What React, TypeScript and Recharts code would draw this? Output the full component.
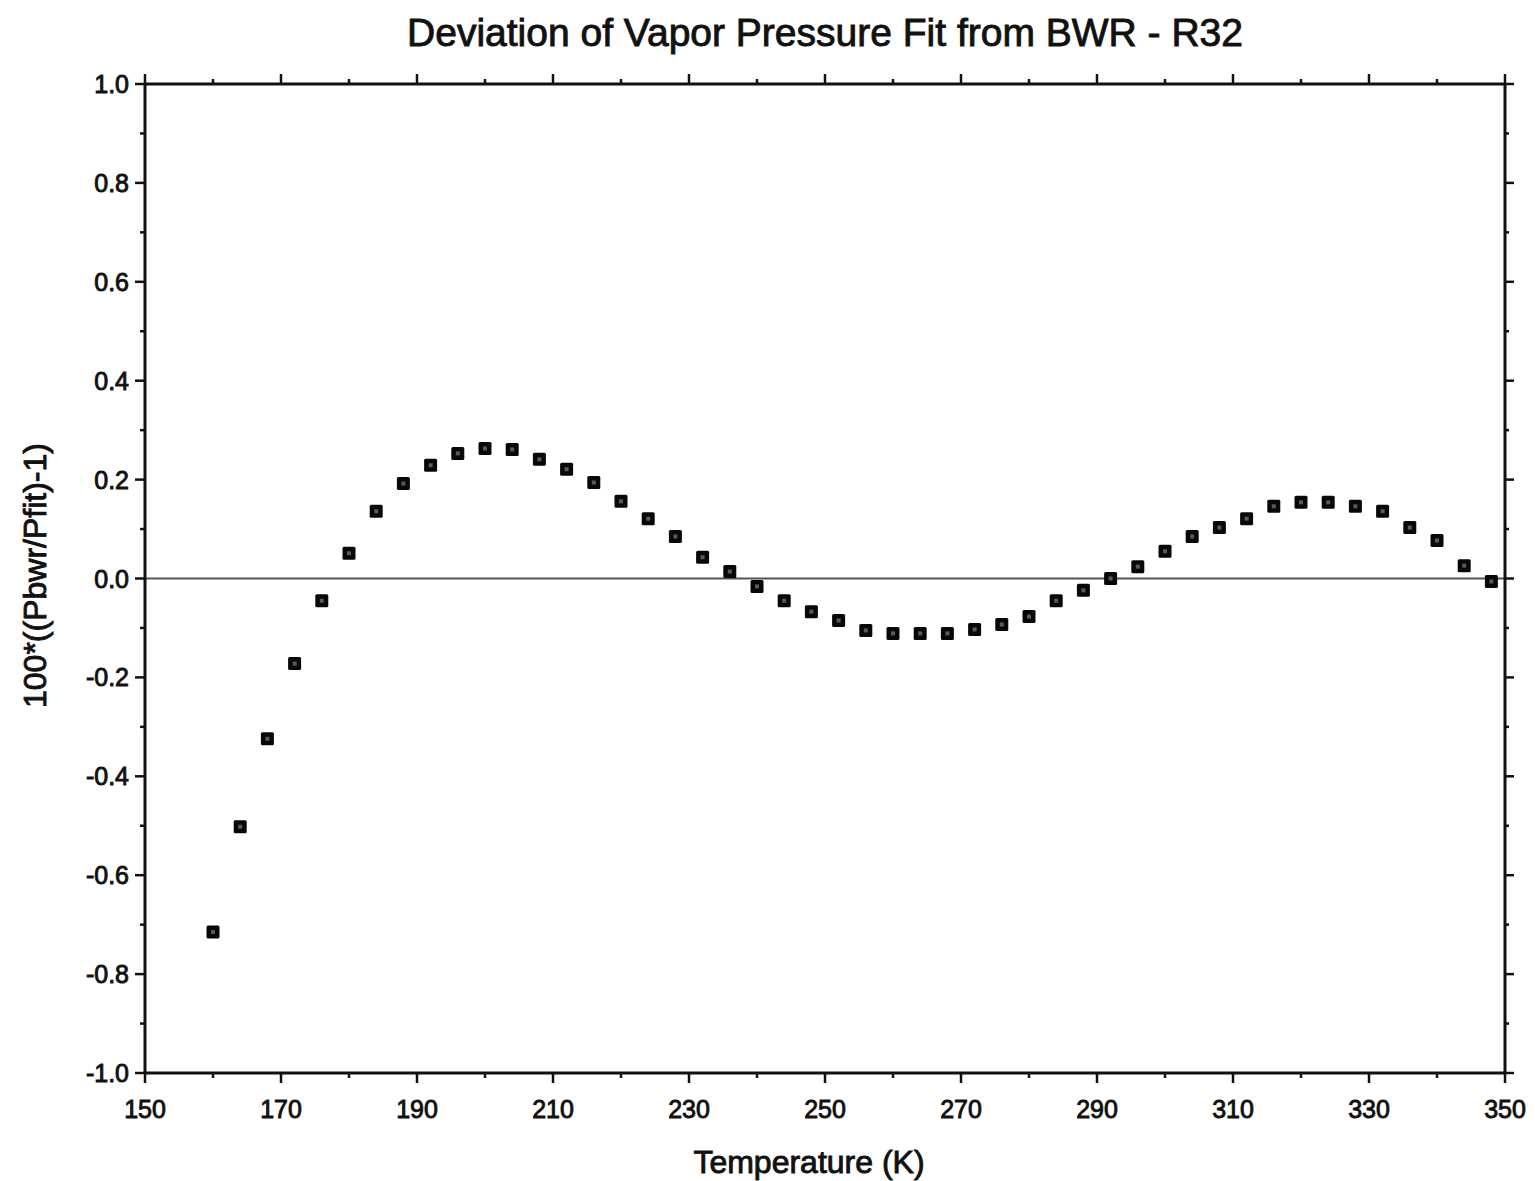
import React from 'react';
import { ScatterChart, Scatter, XAxis, YAxis, ReferenceLine, Label } from 'recharts';

// Temperature (K)
const temperatures = [
  160, 164, 168, 172, 176, 180, 184, 188, 192, 196, 200, 204, 208, 212, 216, 220,
  224, 228, 232, 236, 240, 244, 248, 252, 256, 260, 264, 268, 272, 276, 280, 284,
  288, 292, 296, 300, 304, 308, 312, 316, 320, 324, 328, 332, 336, 340, 344, 348,
];

// 100*((Pbwr/Pfit)-1)
const deviations = [
  -0.715, -0.502, -0.324, -0.172, -0.045, 0.051, 0.136, 0.192, 0.229, 0.253, 0.263, 0.261,
  0.241, 0.221, 0.194, 0.156, 0.121, 0.085, 0.043, 0.014, -0.016, -0.045, -0.067, -0.085,
  -0.105, -0.111, -0.111, -0.111, -0.103, -0.093, -0.077, -0.045, -0.024, 0.0, 0.024, 0.055,
  0.085, 0.103, 0.121, 0.146, 0.154, 0.154, 0.146, 0.136, 0.103, 0.077, 0.026, -0.006,
];

const xTicks = [150, 160, 170, 180, 190, 200, 210, 220, 230, 240, 250, 260, 270, 280, 290, 300, 310, 320, 330, 340, 350];
const xMajorTicks = [150, 170, 190, 210, 230, 250, 270, 290, 310, 330, 350];
const yTicks = [-1.0, -0.9, -0.8, -0.7, -0.6, -0.5, -0.4, -0.3, -0.2, -0.1, 0.0, 0.1, 0.2, 0.3, 0.4, 0.5, 0.6, 0.7, 0.8, 0.9, 1.0];
const yMajorTicks = [-1.0, -0.8, -0.6, -0.4, -0.2, 0.0, 0.2, 0.4, 0.6, 0.8, 1.0];

const chartTitle = 'Deviation of Vapor Pressure Fit from BWR - R32';
const xTitle = 'Temperature (K)';
const yTitle = '100*((Pbwr/Pfit)-1)';

const points = temperatures.map((t, i) => ({ t, d: deviations[i] }));

const FONT = '"Liberation Sans", Arial, Helvetica, sans-serif';
const INK = '#111';

const isMajorX = (v: number) => xMajorTicks.some((m) => Math.abs(m - v) < 1e-9);
const isMajorY = (v: number) => yMajorTicks.some((m) => Math.abs(m - v) < 1e-9);

const BottomTick = (props: any) => {
  const { x, y, payload } = props;
  const major = isMajorX(payload.value);
  return (
    <g>
      <line x1={x} x2={x} y1={y} y2={y + (major ? 10 : 5)} stroke={INK} strokeWidth={2.5} />
      {major && (
        <text x={x} y={y + 36} textAnchor="middle" dominantBaseline="central" fontFamily={FONT} fontSize={25} fill={INK} stroke={INK} strokeWidth={0.9}>
          {payload.value}
        </text>
      )}
    </g>
  );
};

const TopTick = (props: any) => {
  const { x, y, payload } = props;
  const major = isMajorX(payload.value);
  return <line x1={x} x2={x} y1={y} y2={y - (major ? 10 : 5)} stroke={INK} strokeWidth={2.5} />;
};

const LeftTick = (props: any) => {
  const { x, y, payload } = props;
  const major = isMajorY(payload.value);
  return (
    <g>
      <line x1={x} x2={x - (major ? 10 : 5)} y1={y} y2={y} stroke={INK} strokeWidth={2.5} />
      {major && (
        <text x={x - 16} y={y} textAnchor="end" dominantBaseline="central" fontFamily={FONT} fontSize={25} fill={INK} stroke={INK} strokeWidth={0.9}>
          {Number(payload.value).toFixed(1)}
        </text>
      )}
    </g>
  );
};

const RightTick = (props: any) => {
  const { x, y, payload } = props;
  const major = isMajorY(payload.value);
  return <line x1={x} x2={x + (major ? 9 : 4)} y1={y} y2={y} stroke={INK} strokeWidth={2.5} />;
};

const SquareMarker = (props: any) => {
  const { cx, cy } = props;
  if (cx == null || cy == null) return <g />;
  return (
    <g>
      <rect x={cx - 6.5} y={cy - 6.5} width={13} height={13} rx={1.5} fill="#080808" />
      <rect x={cx - 2} y={cy - 2} width={4} height={4} fill="#5a5a5a" />
    </g>
  );
};

const EmptyShape = () => <g />;

const TitleLabel = (props: any) => {
  const vb = props.viewBox || { x: 0, y: 0, width: 0, height: 0 };
  return (
    <text x={vb.x + vb.width / 2} y={vb.y - 32} textAnchor="middle" dominantBaseline="central" fontFamily={FONT} fontSize={39} fill={INK} stroke={INK} strokeWidth={0.9}>
      {chartTitle}
    </text>
  );
};

const XTitleLabel = (props: any) => {
  const vb = props.viewBox || { x: 0, y: 0, width: 0, height: 0 };
  return (
    <text x={vb.x + vb.width / 2 - 16} y={vb.y + 89} textAnchor="middle" dominantBaseline="central" fontFamily={FONT} fontSize={32} fill={INK} stroke={INK} strokeWidth={0.9}>
      {xTitle}
    </text>
  );
};

const YTitleLabel = (props: any) => {
  const vb = props.viewBox || { x: 0, y: 0, width: 0, height: 0 };
  const cx = vb.x - 50;
  const cy = vb.y + vb.height / 2 - 3;
  return (
    <text x={cx} y={cy} transform={`rotate(-90, ${cx}, ${cy})`} textAnchor="middle" dominantBaseline="central" fontFamily={FONT} fontSize={32} fill={INK} stroke={INK} strokeWidth={0.9}>
      {yTitle}
    </text>
  );
};

export default function App() {
  return (
    <div style={{ position: 'absolute', left: 0, top: 0, width: 1535, height: 1181, background: '#fff' }}>
      <ScatterChart width={1535} height={1181} margin={{ top: 64, right: 10, bottom: 68, left: 85 }}>
        <XAxis
          xAxisId="bottom"
          dataKey="t"
          type="number"
          orientation="bottom"
          domain={[150, 350]}
          ticks={xTicks}
          interval={0}
          height={40}
          tickSize={0}
          tickMargin={0}
          tickLine={false}
          tick={BottomTick}
          axisLine={{ stroke: INK, strokeWidth: 3 }}
          allowDataOverflow
        >
          <Label content={XTitleLabel} />
        </XAxis>
        <XAxis
          xAxisId="top"
          dataKey="t"
          type="number"
          orientation="top"
          domain={[150, 350]}
          ticks={xTicks}
          interval={0}
          height={20}
          tickSize={0}
          tickMargin={0}
          tickLine={false}
          tick={TopTick}
          axisLine={{ stroke: INK, strokeWidth: 3 }}
          allowDataOverflow
        >
          <Label content={TitleLabel} />
        </XAxis>
        <YAxis
          yAxisId="left"
          dataKey="d"
          type="number"
          orientation="left"
          domain={[-1, 1]}
          ticks={yTicks}
          interval={0}
          width={60}
          tickSize={0}
          tickMargin={0}
          tickLine={false}
          tick={LeftTick}
          axisLine={{ stroke: INK, strokeWidth: 3 }}
          allowDataOverflow
        >
          <Label content={YTitleLabel} />
        </YAxis>
        <YAxis
          yAxisId="right"
          dataKey="d"
          type="number"
          orientation="right"
          domain={[-1, 1]}
          ticks={yTicks}
          interval={0}
          width={20}
          tickSize={0}
          tickMargin={0}
          tickLine={false}
          tick={RightTick}
          axisLine={{ stroke: INK, strokeWidth: 3 }}
          allowDataOverflow
        />
        <ReferenceLine xAxisId="bottom" yAxisId="left" y={0} stroke="#555" strokeWidth={2} />
        <Scatter xAxisId="top" yAxisId="right" data={points} shape={EmptyShape} isAnimationActive={false} legendType="none" />
        <Scatter xAxisId="bottom" yAxisId="left" data={points} shape={SquareMarker} isAnimationActive={false} />
      </ScatterChart>
    </div>
  );
}
